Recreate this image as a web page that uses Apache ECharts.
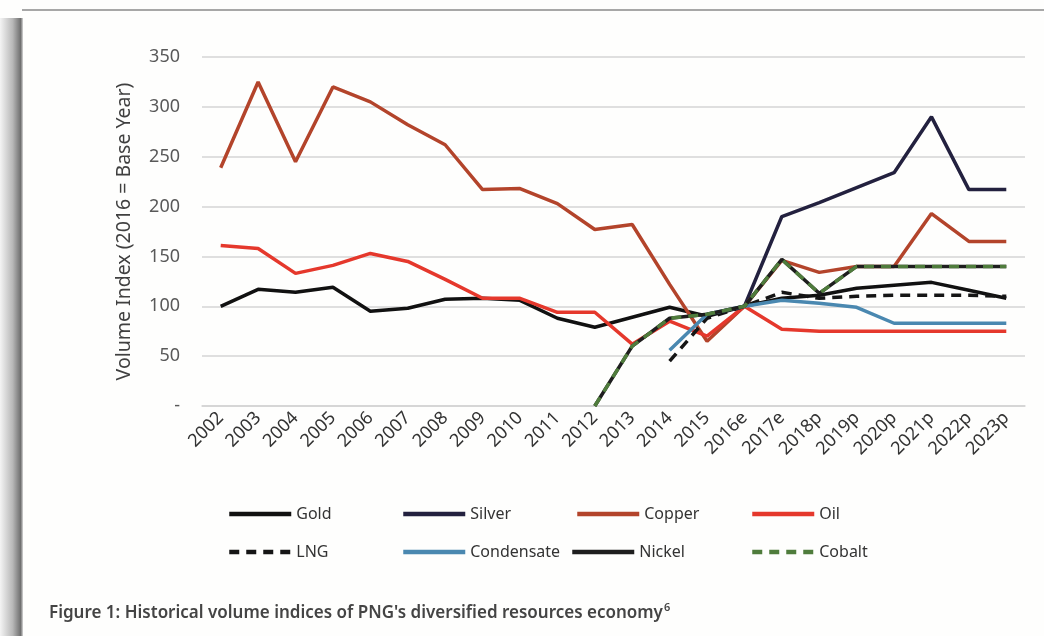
<!DOCTYPE html>
<html>
<head>
<meta charset="utf-8">
<script src="https://cdn.jsdelivr.net/npm/echarts@6/dist/echarts.min.js"></script>
<style>
html,body{margin:0;padding:0;background:#fff;}
#chart{width:1044px;height:636px;}
</style>
</head>
<body>
<div id="chart"></div>
<script>
// categories and series values
const years = ['2002','2003','2004','2005','2006','2007','2008','2009','2010','2011','2012','2013','2014','2015','2016e','2017e','2018p','2019p','2020p','2021p','2022p','2023p'];
const yTicks = [0, 50, 100, 150, 200, 250, 300, 350];

const gold       = [100, 117, 114, 119, 95, 98, 107, 108, 106, 88, 79, 89, 99, 90, 100, 108, 111, 118, 121, 124, 116, 108];
const silver     = [null, null, null, null, null, null, null, null, null, null, null, null, null, null, 100, 190, 204, 219, 234, 290, 217, 217];
const copper     = [239, 325, 245, 320, 305, 282, 262, 217, 218, 203, 177, 182, 122, 65, 100, 146, 134, 140, 140, 193, 165, 165];
const oil        = [161, 158, 133, 141, 153, 145, 127, 108, 108, 94, 94, 62, 85, 70, 100, 77, 75, 75, 75, 75, 75, 75];
const lng        = [null, null, null, null, null, null, null, null, null, null, null, null, 45, 88, 100, 114, 108, 110, 111, 111, 111, 110];
const condensate = [null, null, null, null, null, null, null, null, null, null, null, null, 56, 92, 100, 106, 103, 99, 83, 83, 83, 83];
const nickel     = [null, null, null, null, null, null, null, null, null, null, 0, 60, 88, 92, 100, 147, 113, 140, 140, 140, 140, 140];
const cobalt     = [null, null, null, null, null, null, null, null, null, null, 0, 60, 88, 92, 100, 147, 113, 140, 140, 140, 140, 140];

const chart = echarts.init(document.getElementById('chart'));

function line(name, data, color, dashed){
	return {
		name: name,
		type: 'line',
		data: data,
		symbol: 'none',
		smooth: false,
		connectNulls: false,
		lineStyle: { color: color, width: 3.5, type: dashed ? [10, 7] : 'solid' },
		itemStyle: { color: color }
	};
}

function legendItem(name, left, top){
	return {
		data: [name],
		left: left,
		top: top,
		itemWidth: 62,
		itemHeight: 14,
		itemGap: 4,
		itemStyle: { opacity: 0 },
		lineStyle: { width: 4.5 },
		textStyle: { fontFamily: 'Noto Sans', fontSize: 16, color: '#333' }
	};
}

const option = {
	backgroundColor: '#fefefd',
	animation: false,
	title: {
		text: "Figure 1: Historical volume indices of PNG's diversified resources economy{s|6}",
		left: 44,
		top: 597,
		textStyle: {
			fontFamily: 'Noto Sans',
			fontSize: 17,
			fontWeight: 600,
			color: '#444',
			rich: { s: { fontSize: 11, fontWeight: 600, color: '#444', verticalAlign: 'top', padding: [0, 0, 12, 1] } }
		}
	},
	graphic: [
		{
			type: 'rect',
			shape: { x: 0, y: 18, width: 23, height: 618 },
			style: {
				fill: new echarts.graphic.LinearGradient(0, 0, 1, 0, [
					{ offset: 0, color: '#f4f4f4' },
					{ offset: 0.55, color: '#b8b8b8' },
					{ offset: 0.9, color: '#6f6f6f' },
					{ offset: 1, color: '#d8d8d8' }
				])
			}
		},
		{
			type: 'line',
			shape: { x1: 22, y1: 10, x2: 1044, y2: 10 },
			style: { stroke: '#8a8a8a', lineWidth: 1.5 }
		}
	],
	legend: [
		legendItem('Gold', 222, 501),
		legendItem('Silver', 396, 501),
		legendItem('Copper', 570, 501),
		legendItem('Oil', 745, 501),
		legendItem('LNG', 222, 539),
		legendItem('Condensate', 396, 539),
		legendItem('Nickel', 565, 539),
		legendItem('Cobalt', 745, 539)
	],
	grid: { left: 202, right: 19, top: 57, bottom: 230 },
	xAxis: {
		type: 'category',
		data: years,
		boundaryGap: true,
		axisLine: { lineStyle: { color: '#d4d4d4', width: 1.5 } },
		axisTick: { show: false },
		axisLabel: {
			interval: 0,
			rotate: 45,
			margin: 9,
			fontFamily: 'Noto Sans',
			fontSize: 18,
			color: '#333'
		}
	},
	yAxis: {
		type: 'value',
		min: yTicks[0],
		max: yTicks[yTicks.length - 1],
		interval: 50,
		name: 'Volume Index (2016 = Base Year)',
		nameLocation: 'middle',
		nameGap: 68,
		nameTextStyle: { fontFamily: 'Noto Sans', fontSize: 19.5, color: '#404040' },
		axisLine: { show: false },
		axisTick: { show: false },
		axisLabel: {
			margin: 22,
			fontFamily: 'Noto Sans',
			fontSize: 18,
			color: '#595959',
			formatter: function (v) { return v === 0 ? '-' : String(v); }
		},
		splitLine: { lineStyle: { color: '#d4d4d4', width: 1.5 } }
	},
	series: [
		line('Gold', gold, '#111111'),
		line('Silver', silver, '#23213f'),
		line('Copper', copper, '#b3442b'),
		line('Oil', oil, '#e5382c'),
		line('LNG', lng, '#151515', true),
		line('Condensate', condensate, '#4a88b0'),
		line('Nickel', nickel, '#1e1e1e'),
		line('Cobalt', cobalt, '#4f7c3c', true)
	]
};

chart.setOption(option);
</script>
</body>
</html>
